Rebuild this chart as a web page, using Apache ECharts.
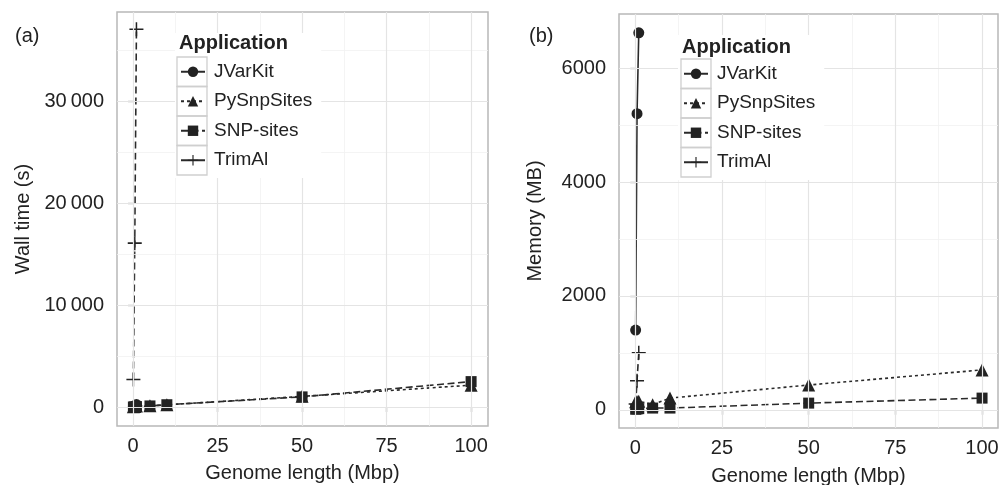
<!DOCTYPE html>
<html>
<head>
<meta charset="utf-8">
<script src="https://cdn.jsdelivr.net/npm/echarts@6/dist/echarts.min.js"></script>
<style>
html,body{margin:0;padding:0;background:#fff;}
#chart{width:1003px;height:485px;}
</style>
</head>
<body>
<div id="chart"></div>
<script>
// ---- data ----
const genomeLength = [0.1, 0.5, 1, 5, 10, 50, 100];
const genomeLengthShort = [0.1, 0.5, 1];
const applications = ['JVarKit', 'PySnpSites', 'SNP-sites', 'TrimAl'];

// Wall time (s)
const timeJVarKit = [40, 120, 250];
const timePySnpSites = [30, 60, 100, 130, 220, 1050, 2150];
const timeSnpSites = [10, 25, 50, 110, 230, 1000, 2500];
const timeTrimAl = [2700, 16100, 37100];

// Memory (MB)
const memJVarKit = [1400, 5200, 6620];
const memPySnpSites = [140, 145, 150, 90, 205, 435, 700];
const memSnpSites = [10, 15, 20, 30, 30, 117, 205];
const memTrimAl = [100, 510, 1000];

// ticks and grid
const xTicks = [0, 25, 50, 75, 100];
const xMinor = [12.5, 37.5, 62.5, 87.5];
const yTicksTime = [0, 10000, 20000, 30000];
const yMinorTime = [5000, 15000, 25000, 35000];
const yTicksMem = [0, 2000, 4000, 6000];
const yMinorMem = [1000, 3000, 5000];

// ---- styles ----
const INK = '#222';
const FONT = 'Liberation Sans, Arial, Helvetica, sans-serif';
const plusPath = 'path://M0,5.35H12V6.65H0Z M5.35,0H6.65V12H5.35Z';
const styleOf = {
  'JVarKit':    {symbol: 'circle',   symbolSize: 11, dash: 'solid'},
  'PySnpSites': {symbol: 'triangle', symbolSize: 13, dash: [3, 3]},
  'SNP-sites':  {symbol: 'rect',     symbolSize: 11, dash: [7, 3.5]},
  'TrimAl':     {symbol: plusPath,   symbolSize: 14, dash: [7, 4]}
};

function zip(xs, ys) { return ys.map((y, i) => [xs[i], y]); }

function makeSeries(name, xs, ys, idx) {
  const s = styleOf[name];
  return {
    name: name, type: 'line', xAxisIndex: idx, yAxisIndex: idx,
    data: zip(xs, ys), symbol: s.symbol, symbolSize: s.symbolSize,
    showAllSymbol: true, z: 3,
    lineStyle: {color: '#2a2a2a', width: 1.6, type: s.dash},
    itemStyle: {color: INK},
    emphasis: {disabled: true}, silent: true
  };
}

function gridSeries(idx, xMaj, xMin, yMaj, yMin) {
  const major = {color: '#e4e4e4', width: 1.2, type: 'solid'};
  const minor = {color: '#f1f1f1', width: 0.8, type: 'solid'};
  const d = []
    .concat(xMin.map(v => ({xAxis: v, lineStyle: minor})))
    .concat(yMin.map(v => ({yAxis: v, lineStyle: minor})))
    .concat(xMaj.map(v => ({xAxis: v, lineStyle: major})))
    .concat(yMaj.map(v => ({yAxis: v, lineStyle: major})));
  return {
    type: 'line', xAxisIndex: idx, yAxisIndex: idx, data: [], z: 1, silent: true,
    markLine: {silent: true, symbol: ['none', 'none'], label: {show: false},
      lineStyle: {type: 'solid'}, emphasis: {disabled: true}, animation: false, data: d}
  };
}

function fmt(v) {
  if (Math.abs(v) >= 10000) {
    const s = String(v);
    return s.slice(0, s.length - 3) + '\u2009' + s.slice(s.length - 3);
  }
  return String(v);
}

function xAxisCfg(idx, min, max) {
  return {
    type: 'value', gridIndex: idx, min: min, max: max,
    name: 'Genome length (Mbp)', nameLocation: 'middle', nameGap: idx === 0 ? 37 : 38,
    nameTextStyle: {color: INK, fontSize: 20, fontFamily: FONT},
    axisLine: {show: false},
    axisTick: {show: true, length: 5, customValues: xTicks, lineStyle: {color: '#444', width: 1.2}},
    axisLabel: {customValues: xTicks, color: INK, fontSize: 20, fontFamily: FONT, margin: 10, formatter: fmt},
    splitLine: {show: false}
  };
}

function yAxisCfg(idx, min, max, ticks, name, gap) {
  return {
    type: 'value', gridIndex: idx, min: min, max: max,
    name: name, nameLocation: 'middle', nameRotate: 90, nameGap: gap,
    nameTextStyle: {color: INK, fontSize: 20, fontFamily: FONT},
    axisLine: {show: false},
    axisTick: {show: true, length: 5, customValues: ticks, lineStyle: {color: '#444', width: 1.2}},
    axisLabel: {customValues: ticks, color: INK, fontSize: 20, fontFamily: FONT, margin: 13, formatter: fmt},
    splitLine: {show: false}
  };
}

function legendCfg(idx, left, top) {
  return {
    show: true, orient: 'vertical', left: left, top: top, zlevel: 1, z: 4,
    data: applications.map(n => n === 'TrimAl' ? {name: n, lineStyle: {type: 'solid'}} : {name: n}),
    selectedMode: false, itemWidth: 24, itemHeight: 13, itemGap: 0,
    padding: [24, 9, 3, 5], backgroundColor: '#fff',
    textStyle: {color: INK, fontSize: 19, fontFamily: FONT, lineHeight: 29.5, padding: [0, 0, 0, 4]},
    inactiveColor: INK
  };
}

function keyBoxes(left, top) {
  return [0, 1, 2, 3].map(i => ({
    type: 'rect', z: 10, zlevel: 1, silent: true,
    shape: {x: left, y: top + i * 29.5, width: 30, height: 29.5},
    style: {fill: 'none', stroke: '#cfcfcf', lineWidth: 1.3}
  }));
}

const titleStyle = {color: INK, fontSize: 20, fontWeight: 'normal', fontFamily: FONT};
const chart = echarts.init(document.getElementById('chart'), null, {renderer: 'canvas'});
chart.setOption({
  animation: false,
  backgroundColor: '#fff',
  textStyle: {fontFamily: FONT},
  title: [
    {text: '(a)', left: 15, top: 26, padding: 0, zlevel: 1, textStyle: titleStyle},
    {text: '(b)', left: 529, top: 26, padding: 0, zlevel: 1, textStyle: titleStyle},
    {text: 'Application', left: 179, top: 33, padding: 0, zlevel: 1, z: 12, textStyle: {color: INK, fontSize: 20, fontWeight: 'bold', fontFamily: FONT}},
    {text: 'Application', left: 682, top: 37, padding: 0, zlevel: 1, z: 12, textStyle: {color: INK, fontSize: 20, fontWeight: 'bold', fontFamily: FONT}}
  ],
  grid: [
    {left: 117, top: 12, width: 371, height: 414, show: true, outerBoundsMode: 'none', containLabel: false,
     borderColor: '#b8b8b8', borderWidth: 1.5, backgroundColor: 'transparent'},
    {left: 619, top: 14, width: 379, height: 414, show: true, outerBoundsMode: 'none', containLabel: false,
     borderColor: '#b8b8b8', borderWidth: 1.5, backgroundColor: 'transparent'}
  ],
  xAxis: [xAxisCfg(0, -4.75, 105), xAxisCfg(1, -4.7, 104.6)],
  yAxis: [
    yAxisCfg(0, -1860, 38800, yTicksTime, 'Wall time (s)', 84),
    yAxisCfg(1, -320, 6951, yTicksMem, 'Memory (MB)', 74)
  ],
  legend: [legendCfg(0, 175, 33), legendCfg(1, 678, 35)],
  graphic: keyBoxes(177, 57).concat(keyBoxes(681, 59)),
  series: [
    gridSeries(0, xTicks, xMinor, yTicksTime, yMinorTime),
    gridSeries(1, xTicks, xMinor, yTicksMem, yMinorMem),
    makeSeries('JVarKit', genomeLengthShort, timeJVarKit, 0),
    makeSeries('PySnpSites', genomeLength, timePySnpSites, 0),
    makeSeries('SNP-sites', genomeLength, timeSnpSites, 0),
    makeSeries('TrimAl', genomeLengthShort, timeTrimAl, 0),
    makeSeries('JVarKit', genomeLengthShort, memJVarKit, 1),
    makeSeries('PySnpSites', genomeLength, memPySnpSites, 1),
    makeSeries('SNP-sites', genomeLength, memSnpSites, 1),
    makeSeries('TrimAl', genomeLengthShort, memTrimAl, 1)
  ]
});
</script>
</body>
</html>
